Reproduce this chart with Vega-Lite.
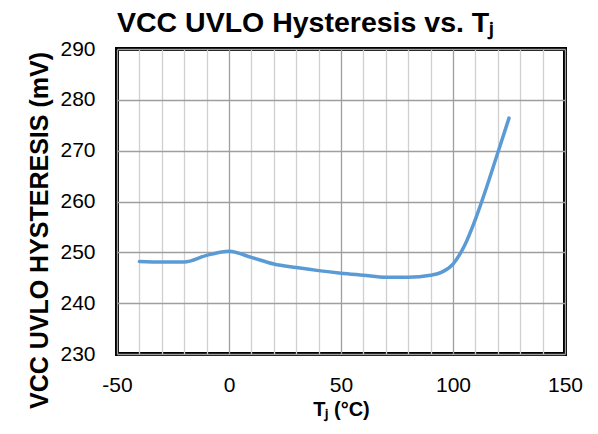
{
  "$schema": "https://vega.github.io/schema/vega-lite/v6.json",
  "width": 448,
  "height": 305,
  "autosize": "none",
  "padding": {"left": 117, "top": 49, "right": 33, "bottom": 80},
  "background": "white",
  "config": {
    "view": {"stroke": "black", "strokeWidth": 4},
    "font": "Liberation Sans"
  },
  "title": {
    "text": "VCC UVLO Hysteresis vs. Tⱼ",
    "anchor": "start",
    "frame": "group",
    "font": "Liberation Sans",
    "fontSize": 28.5,
    "fontWeight": "bold",
    "color": "black",
    "baseline": "alphabetic",
    "offset": 17,
    "dy": 39
  },
  "data": {
    "values": [
      {"t": -40, "v": 248.2},
      {"t": -30, "v": 248.1},
      {"t": -20, "v": 248.1},
      {"t": -10, "v": 249.4},
      {"t": 0, "v": 250.2},
      {"t": 10, "v": 249.0},
      {"t": 20, "v": 247.7},
      {"t": 30, "v": 247.0},
      {"t": 40, "v": 246.4},
      {"t": 50, "v": 245.9},
      {"t": 60, "v": 245.5},
      {"t": 70, "v": 245.1},
      {"t": 80, "v": 245.1},
      {"t": 90, "v": 245.5},
      {"t": 95, "v": 246.1},
      {"t": 100, "v": 247.7},
      {"t": 105, "v": 251.2},
      {"t": 110, "v": 256.5},
      {"t": 115, "v": 262.8},
      {"t": 120, "v": 269.6},
      {"t": 125, "v": 276.4}
    ]
  },
  "mark": {"type": "line", "interpolate": "monotone", "color": "#5b9bd5", "strokeWidth": 3.5, "strokeCap": "round"},
  "encoding": {
    "x": {
      "field": "t",
      "type": "quantitative",
      "scale": {"domain": [-50, 150], "nice": false, "zero": false},
      "axis": {
        "values": [-50, -40, -30, -20, -10, 0, 10, 20, 30, 40, 50, 60, 70, 80, 90, 100, 110, 120, 130, 140, 150],
        "labelExpr": "datum.value % 50 === 0 ? '' + datum.value : ''",
        "title": "Tⱼ (°C)",
        "grid": true,
        "gridColor": {"condition": {"test": "datum.value % 50 === 0", "value": "#9e9e9e"}, "value": "#d0d0d0"},
        "gridWidth": 1.3,
        "ticks": false,
        "domain": false,
        "labelFont": "Liberation Sans",
        "labelFontSize": 21,
        "labelColor": "black",
        "labelPadding": 20,
        "labelFlush": false,
        "titleFont": "Liberation Sans",
        "titleFontSize": 20,
        "titleFontWeight": "bold",
        "titleColor": "black",
        "titleBaseline": "alphabetic",
        "titleY": 61
      }
    },
    "y": {
      "field": "v",
      "type": "quantitative",
      "scale": {"domain": [230, 290], "nice": false, "zero": false},
      "axis": {
        "values": [230, 240, 250, 260, 270, 280, 290],
        "title": "VCC UVLO HYSTERESIS (mV)",
        "grid": true,
        "gridColor": "#9e9e9e",
        "gridWidth": 1.3,
        "ticks": false,
        "domain": false,
        "labelFont": "Liberation Sans",
        "labelFontSize": 21,
        "labelColor": "black",
        "labelPadding": 22,
        "labelFlush": false,
        "titleFont": "Liberation Sans",
        "titleFontSize": 25,
        "titleFontWeight": "bold",
        "titleColor": "black",
        "titleBaseline": "alphabetic",
        "titleAlign": "center",
        "titleX": -70,
        "titleY": 181
      }
    }
  }
}
